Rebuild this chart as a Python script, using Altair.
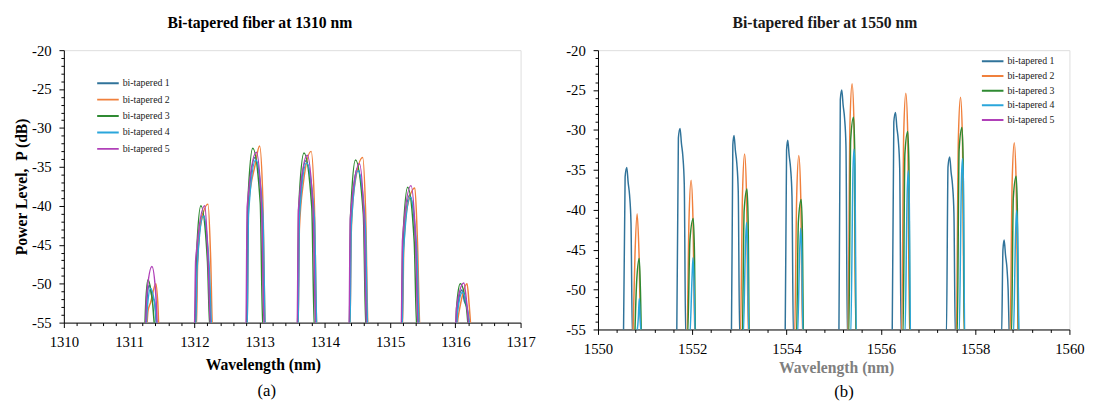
import altair as alt
import pandas as pd

FONT = "Liberation Serif"
SERIES = ["bi-tapered 1", "bi-tapered 2", "bi-tapered 3", "bi-tapered 4", "bi-tapered 5"]
COLORS = ["#30739a", "#f0803c", "#2f8a32", "#2aa6db", "#b040b8"]

# ---- Panel (a): 1310 nm (wavelength nm, power dB)
A_BT1 = [(1311.25,-56),(1311.27,-52.4),(1311.31,-50.2),(1311.35,-51.6),(1311.39,-52.3),(1311.43,-56),
         (1312.02,-56),(1312.04,-48),(1312.13,-41.0),(1312.22,-48),(1312.26,-56),
         (1312.80,-56),(1312.82,-40.8),(1312.93,-33.8),(1313.04,-40.8),(1313.08,-56),
         (1313.585,-56),(1313.605,-41.2),(1313.71,-34.2),(1313.83,-41.2),(1313.87,-56),
         (1314.38,-56),(1314.40,-42.2),(1314.50,-35.2),(1314.61,-42.2),(1314.65,-56),
         (1315.18,-56),(1315.20,-45.6),(1315.30,-38.6),(1315.40,-45.6),(1315.44,-56),
         (1316.01,-56),(1316.03,-53.5),(1316.10,-50.8),(1316.14,-52.3),(1316.18,-53.2),(1316.22,-56)]
A_BT2 = [(1311.27,-56),(1311.29,-53.5),(1311.33,-52.4),(1311.41,-50.0),(1311.44,-52.5),(1311.46,-56),
         (1312.03,-56),(1312.05,-47.5),(1312.09,-42.7),(1312.21,-39.8),(1312.25,-46.8),(1312.28,-56),
         (1312.81,-56),(1312.83,-40.0),(1312.93,-34.8),(1313.00,-32.3),(1313.05,-39.3),(1313.09,-56),
         (1313.59,-56),(1313.61,-43.0),(1313.67,-37.1),(1313.79,-33.0),(1313.84,-40.0),(1313.88,-56),
         (1314.385,-56),(1314.405,-43.5),(1314.45,-37.8),(1314.58,-33.8),(1314.625,-40.8),(1314.665,-56),
         (1315.19,-56),(1315.21,-45.5),(1315.26,-40.3),(1315.38,-37.7),(1315.42,-44.7),(1315.46,-56),
         (1316.02,-56),(1316.04,-54.5),(1316.08,-52.6),(1316.18,-50.0),(1316.21,-52.5),(1316.24,-56)]
A_BT3 = [(1311.24,-56),(1311.255,-52.5),(1311.29,-49.5),(1311.36,-52.5),(1311.40,-56),
         (1312.01,-56),(1312.03,-47.0),(1312.10,-40.0),(1312.20,-47.0),(1312.24,-56),
         (1312.80,-56),(1312.82,-39.6),(1312.895,-32.6),(1313.01,-39.6),(1313.05,-56),
         (1313.58,-56),(1313.60,-40.2),(1313.68,-33.2),(1313.80,-40.2),(1313.84,-56),
         (1314.375,-56),(1314.395,-41.1),(1314.47,-34.1),(1314.59,-41.1),(1314.63,-56),
         (1315.175,-56),(1315.195,-44.6),(1315.27,-37.6),(1315.37,-44.6),(1315.41,-56),
         (1316.00,-56),(1316.02,-53.0),(1316.075,-50.0),(1316.17,-53.0),(1316.20,-56)]
A_BT4 = [(1311.26,-56),(1311.28,-53.0),(1311.33,-50.6),(1311.40,-53.0),(1311.44,-56),
         (1312.02,-56),(1312.04,-48.3),(1312.14,-41.3),(1312.23,-48.3),(1312.27,-56),
         (1312.81,-56),(1312.83,-41.1),(1312.94,-34.1),(1313.05,-41.1),(1313.09,-56),
         (1313.59,-56),(1313.61,-41.5),(1313.72,-34.5),(1313.84,-41.5),(1313.88,-56),
         (1314.385,-56),(1314.405,-42.5),(1314.51,-35.5),(1314.62,-42.5),(1314.66,-56),
         (1315.185,-56),(1315.205,-45.9),(1315.31,-38.9),(1315.41,-45.9),(1315.45,-56),
         (1316.015,-56),(1316.035,-53.5),(1316.11,-51.1),(1316.19,-53.5),(1316.23,-56)]
A_BT5 = [(1311.25,-56),(1311.27,-51.5),(1311.35,-47.8),(1311.41,-51.5),(1311.44,-56),
         (1312.00,-56),(1312.02,-47.0),(1312.16,-40.0),(1312.21,-47.0),(1312.25,-56),
         (1312.79,-56),(1312.81,-40.1),(1312.95,-33.1),(1313.03,-40.1),(1313.07,-56),
         (1313.575,-56),(1313.595,-40.5),(1313.73,-33.5),(1313.82,-40.5),(1313.86,-56),
         (1314.37,-56),(1314.39,-41.6),(1314.53,-34.6),(1314.60,-41.6),(1314.64,-56),
         (1315.17,-56),(1315.19,-44.4),(1315.32,-37.4),(1315.39,-44.4),(1315.43,-56),
         (1316.00,-56),(1316.02,-53.0),(1316.13,-49.9),(1316.18,-53.0),(1316.21,-56)]

# ---- Panel (b): 1550 nm
B_BT1 = [(1550.54,-56),(1550.575,-35.9),(1550.61,-34.7),(1550.64,-36.6),(1550.67,-38.2),(1550.70,-41.7),(1550.73,-56),
         (1551.67,-56),(1551.705,-31.0),(1551.74,-29.8),(1551.77,-31.7),(1551.80,-33.3),(1551.83,-36.8),(1551.86,-56),
         (1552.83,-56),(1552.86,-31.9),(1552.885,-30.7),(1552.915,-32.6),(1552.945,-34.2),(1552.975,-37.7),(1553.005,-56),
         (1553.97,-56),(1554.00,-32.5),(1554.025,-31.3),(1554.055,-33.2),(1554.085,-34.8),(1554.115,-38.3),(1554.145,-56),
         (1555.11,-56),(1555.14,-26.2),(1555.17,-25.0),(1555.20,-26.9),(1555.23,-28.5),(1555.26,-32.0),(1555.29,-56),
         (1556.24,-56),(1556.275,-29.0),(1556.31,-27.8),(1556.34,-29.7),(1556.37,-31.3),(1556.40,-34.8),(1556.43,-56),
         (1557.39,-56),(1557.425,-34.6),(1557.46,-33.4),(1557.49,-35.3),(1557.52,-36.9),(1557.55,-40.4),(1557.58,-56),
         (1558.56,-56),(1558.59,-45.0),(1558.615,-43.8),(1558.645,-45.7),(1558.675,-47.3),(1558.70,-50.0),(1558.725,-56)]
B_BT2 = [(1550.74,-56),(1550.785,-45.5),(1550.83,-40.5),(1550.87,-45.5),(1550.91,-56),
         (1551.885,-56),(1551.93,-41.3),(1551.975,-36.3),(1552.015,-41.3),(1552.055,-56),
         (1553.02,-56),(1553.065,-38.0),(1553.11,-33.0),(1553.15,-38.0),(1553.19,-56),
         (1554.17,-56),(1554.215,-38.2),(1554.26,-33.2),(1554.30,-38.2),(1554.34,-56),
         (1555.30,-56),(1555.345,-29.2),(1555.39,-24.2),(1555.43,-29.2),(1555.47,-56),
         (1556.44,-56),(1556.485,-30.4),(1556.53,-25.4),(1556.57,-30.4),(1556.61,-56),
         (1557.60,-56),(1557.645,-30.9),(1557.69,-25.9),(1557.73,-30.9),(1557.77,-56),
         (1558.74,-56),(1558.785,-36.6),(1558.83,-31.6),(1558.87,-36.6),(1558.91,-56)]
B_BT3 = [(1550.78,-56),(1550.82,-49.0),(1550.875,-46.1),(1550.90,-50.1),(1550.925,-56),
         (1551.90,-56),(1551.95,-43.8),(1552.02,-41.1),(1552.045,-45.1),(1552.07,-56),
         (1553.06,-56),(1553.10,-40.1),(1553.16,-37.4),(1553.185,-41.4),(1553.21,-56),
         (1554.21,-56),(1554.25,-41.5),(1554.31,-38.7),(1554.335,-42.7),(1554.36,-56),
         (1555.32,-56),(1555.36,-31.2),(1555.42,-28.4),(1555.445,-32.4),(1555.47,-56),
         (1556.47,-56),(1556.51,-33.0),(1556.57,-30.2),(1556.595,-34.2),(1556.62,-56),
         (1557.62,-56),(1557.66,-32.5),(1557.72,-29.7),(1557.745,-33.7),(1557.77,-56),
         (1558.77,-56),(1558.81,-38.5),(1558.87,-35.8),(1558.895,-39.8),(1558.92,-56)]
B_BT4 = [(1550.805,-56),(1550.855,-53.6),(1550.875,-51.1),(1550.895,-53.6),(1550.925,-56),
         (1551.945,-56),(1551.995,-48.5),(1552.015,-46.0),(1552.035,-48.5),(1552.065,-56),
         (1553.08,-56),(1553.13,-44.1),(1553.15,-41.6),(1553.17,-44.1),(1553.20,-56),
         (1554.23,-56),(1554.28,-44.8),(1554.30,-42.3),(1554.32,-44.8),(1554.35,-56),
         (1555.36,-56),(1555.41,-34.9),(1555.43,-32.4),(1555.45,-34.9),(1555.48,-56),
         (1556.51,-56),(1556.56,-37.6),(1556.58,-35.1),(1556.60,-37.6),(1556.63,-56),
         (1557.66,-56),(1557.71,-36.1),(1557.73,-33.6),(1557.75,-36.1),(1557.78,-56),
         (1558.81,-56),(1558.86,-42.6),(1558.88,-40.1),(1558.90,-42.6),(1558.93,-56)]
B_BT5 = []  # listed in the legend, no trace visible

# ---- Axis ticks
A_XTICKS = [round(1310 + 0.2 * i, 1) for i in range(36)]
B_XTICKS = [round(1550 + 0.4 * i, 1) for i in range(26)]
YTICKS = list(range(-55, -19))


def frame(lists):
    rows = []
    for name, pts in zip(SERIES, lists):
        for i, (x, y) in enumerate(pts):
            rows.append({"series": name, "wl": x, "p": y, "k": i})
    return pd.DataFrame(rows)


def panel(df, xdom, xticks, xmajor, ytitle, title, title_dx, title_color,
          xtitle_color, xtitle_x, xtitle_y, w, h, leg_x, leg_y, leg_pad, tag, tag_x, tag_y):
    yaxis = alt.Axis(
        values=YTICKS, title=ytitle, grid=False,
        labelExpr="datum.value % 5 == 0 ? '' + datum.value : ''",
        tickSize={"condition": {"test": "datum.value % 5 == 0", "value": 5}, "value": 3},
        labelFont=FONT, labelFontSize=15, labelColor="black", labelPadding=8,
        titleFont=FONT, titleFontSize=16, titleFontWeight="bold", titleColor="black",
        titleX=-43, titleY=h / 2, titleBaseline="middle", titleAlign="center",
        domainColor="black", tickColor="black",
    )
    xaxis = alt.Axis(
        values=xticks, title="Wavelength (nm)", grid=False,
        labelExpr=f"{xmajor} ? '' + round(datum.value) : ''",
        tickSize={"condition": {"test": xmajor, "value": 5}, "value": 3},
        labelFont=FONT, labelFontSize=15, labelColor="black", labelPadding=7,
        labelFlush=False, labelOverlap=False,
        titleFont=FONT, titleFontSize=16, titleFontWeight="bold", titleColor=xtitle_color,
        titleX=xtitle_x, titleY=xtitle_y, titleBaseline="middle",
        domainColor="black", tickColor="black",
    )
    lines = alt.Chart(df).mark_line(clip=True, strokeWidth=1.5, interpolate="monotone").encode(
        x=alt.X("wl:Q", scale=alt.Scale(domain=xdom, nice=False, zero=False), axis=xaxis),
        y=alt.Y("p:Q", scale=alt.Scale(domain=[-55, -20], nice=False, zero=False), axis=yaxis),
        color=alt.Color("series:N", scale=alt.Scale(domain=SERIES, range=COLORS),
                        legend=alt.Legend(orient="none", legendX=leg_x, legendY=leg_y, title=None,
                                          symbolType="stroke", symbolSize=484, symbolStrokeWidth=2,
                                          clipHeight=10, rowPadding=leg_pad, padding=0,
                                          labelFont=FONT, labelFontSize=10, labelColor="#222",
                                          labelOffset=3)),
        detail="series:N",
        order="k:Q",
    )
    label = alt.Chart(pd.DataFrame({"t": [tag]})).mark_text(
        font=FONT, fontSize=17, baseline="middle", align="center", color="black"
    ).encode(x=alt.value(tag_x), y=alt.value(tag_y), text="t:N")
    return alt.layer(lines, label).properties(
        width=w, height=h,
        title=alt.TitleParams(text=title, font=FONT, fontSize=16, fontWeight="bold",
                              color=title_color, anchor="middle", frame="group",
                              dx=title_dx, offset=13),
    )


left = panel(frame([A_BT1, A_BT2, A_BT3, A_BT4, A_BT5]), [1310, 1317], A_XTICKS,
             "abs(datum.value - round(datum.value)) < 0.001",
             "Power Level,\u00a0 P (dB)", "Bi-tapered fiber at 1310 nm", -33, "black",
             "black", 203, 43, 466, 278, 33, 28.7, 6.75, "(a)", 207, 348)
right = panel(frame([B_BT1, B_BT2, B_BT3, B_BT4, B_BT5]), [1550, 1560], B_XTICKS,
              "abs(datum.value - round(datum.value)) < 0.001 && round(datum.value) % 2 == 0",
              "", "Bi-tapered fiber at 1550 nm", -9, "#1a1a1a",
              "#7f7f7f", 243, 39, 481, 285, 390.7, 6.3, 5, "(b)", 251, 348.5)

chart = alt.hconcat(left, right, spacing=29).resolve_scale(color="independent").properties(
    padding={"top": 2, "left": 5, "right": 5, "bottom": 0}
).configure_view(
    stroke="#8c8c8c", strokeWidth=1
).configure(background="white")

chart.save("out.html", embed_options={"renderer": "svg", "actions": False})
